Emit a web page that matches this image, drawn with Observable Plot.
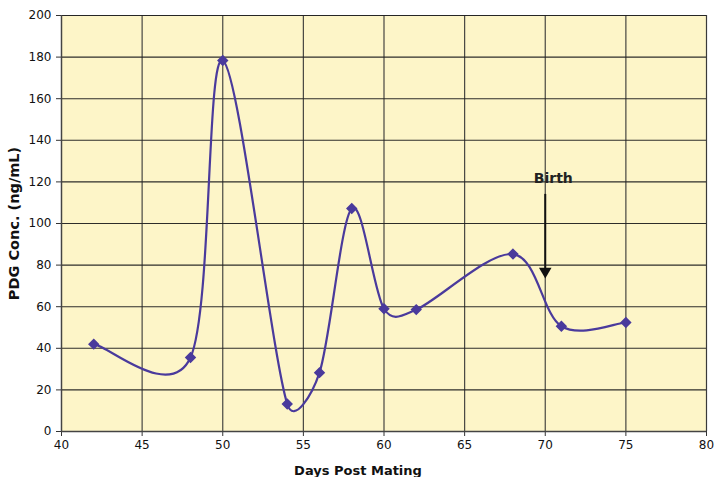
<!DOCTYPE html>
<html><head><meta charset="utf-8">
<script src="https://cdn.jsdelivr.net/npm/d3@7"></script>
<script src="https://cdn.jsdelivr.net/npm/@observablehq/plot@0.6"></script>
<style>
body{margin:0;background:#fff;}
#chart{position:relative;width:715px;height:477px;}
</style></head><body><div id="chart"></div>
<script>
const days = [42, 48, 50, 54, 56, 58, 60, 62, 68, 71, 75];
const pdg = [42, 35.6, 178.4, 13.2, 28.3, 107.2, 59, 58.6, 85.3, 50.6, 52.4];
const xTicks = [40, 45, 50, 55, 60, 65, 70, 75, 80];
const yTicks = [0, 20, 40, 60, 80, 100, 120, 140, 160, 180, 200];
const birthDay = [70];
const birthLabelY = [121.5];
const arrowTop = [114];
const arrowHeadY = [77];

const data = days.map((d, i) => ({day: d, v: pdg[i]}));
const purple = "#4a3a9c";
const font = "DejaVu Sans, sans-serif";

// Spreadsheet-style smoothed line (Bezier, tension 1/6, control arms capped at half the chord)
function smoothCurve(context) {
  let pts = [];
  const dist = (a, b) => Math.hypot(a[0] - b[0], a[1] - b[1]);
  return {
    areaStart() {}, areaEnd() {},
    lineStart() { pts = []; },
    point(x, y) { pts.push([+x, +y]); },
    lineEnd() {
      const n = pts.length;
      if (!n) return;
      context.moveTo(pts[0][0], pts[0][1]);
      if (n === 2) { context.lineTo(pts[1][0], pts[1][1]); return; }
      for (let i = 0; i < n - 1; i++) {
        const p0 = pts[Math.max(i - 1, 0)], p1 = pts[i], p2 = pts[i + 1], p3 = pts[Math.min(i + 2, n - 1)];
        const d12 = dist(p1, p2), d02 = dist(p0, p2), d13 = dist(p1, p3);
        let f1 = 1 / 6, f2 = 1 / 6;
        if (d02 > 0 && d02 / 6 > d12 / 2) f1 = d12 / (2 * d02);
        if (d13 > 0 && d13 / 6 > d12 / 2) f2 = d12 / (2 * d13);
        context.bezierCurveTo(
          p1[0] + f1 * (p2[0] - p0[0]), p1[1] + f1 * (p2[1] - p0[1]),
          p2[0] - f2 * (p3[0] - p1[0]), p2[1] - f2 * (p3[1] - p1[1]),
          p2[0], p2[1]);
      }
    }
  };
}

const chart = Plot.plot({
  width: 715,
  height: 477,
  marginLeft: 61,
  marginRight: 9,
  marginTop: 15,
  marginBottom: 46,
  style: {fontFamily: font, fontSize: "12px", color: "#111", background: "#fff"},
  x: {domain: [40, 80], ticks: xTicks, tickSize: 5, tickPadding: 4, label: null},
  y: {domain: [0, 200], ticks: yTicks, tickSize: 5, tickPadding: 5, label: null},
  marks: [
    Plot.frame({fill: "#fdf5c8", stroke: "#777"}),
    Plot.gridX(xTicks, {stroke: "#333", strokeOpacity: 0.9, strokeWidth: 1.2}),
    Plot.gridY(yTicks, {stroke: "#222", strokeOpacity: 0.95, strokeWidth: 1.1}),
    Plot.axisX({ticks: xTicks, tickSize: 5, tickPadding: 4, fontSize: 12, stroke: "#333", label: null}),
    Plot.axisY({ticks: yTicks, tickSize: 5, tickPadding: 5, fontSize: 12, stroke: "#333", label: null}),
    Plot.ruleX([40], {stroke: "#444", strokeWidth: 1.3}),
    Plot.ruleY([0], {stroke: "#444", strokeWidth: 1.3}),
    Plot.line(data, {x: "day", y: "v", curve: smoothCurve, stroke: purple, strokeWidth: 2.2}),
    Plot.dot(data, {x: "day", y: "v", symbol: "diamond2", r: 4.2, fill: purple, stroke: purple}),
    Plot.ruleX(birthDay, {y1: arrowTop[0], y2: arrowHeadY[0], stroke: "#111", strokeWidth: 2}),
    Plot.dot(birthDay, {x: d => d, y: arrowHeadY[0], symbol: "triangle2", r: 6, rotate: 180, fill: "#111"}),
    Plot.text(birthDay, {x: d => d + 0.5, y: birthLabelY[0], text: () => "Birth", fontWeight: "bold", fontSize: 14, fill: "#222"}),
    Plot.text(["PDG Conc. (ng/mL)"], {frameAnchor: "left", textAnchor: "middle", dx: -47, rotate: -90, fontWeight: "bold", fontSize: 14.5, fill: "#111", text: d => d}),
    Plot.text(["Days Post Mating"], {x: 60, y: 0, dx: -26, dy: 39, fontWeight: "bold", fontSize: 13, fill: "#111", text: d => d})
  ]
});
document.getElementById("chart").appendChild(chart);
</script></body></html>
